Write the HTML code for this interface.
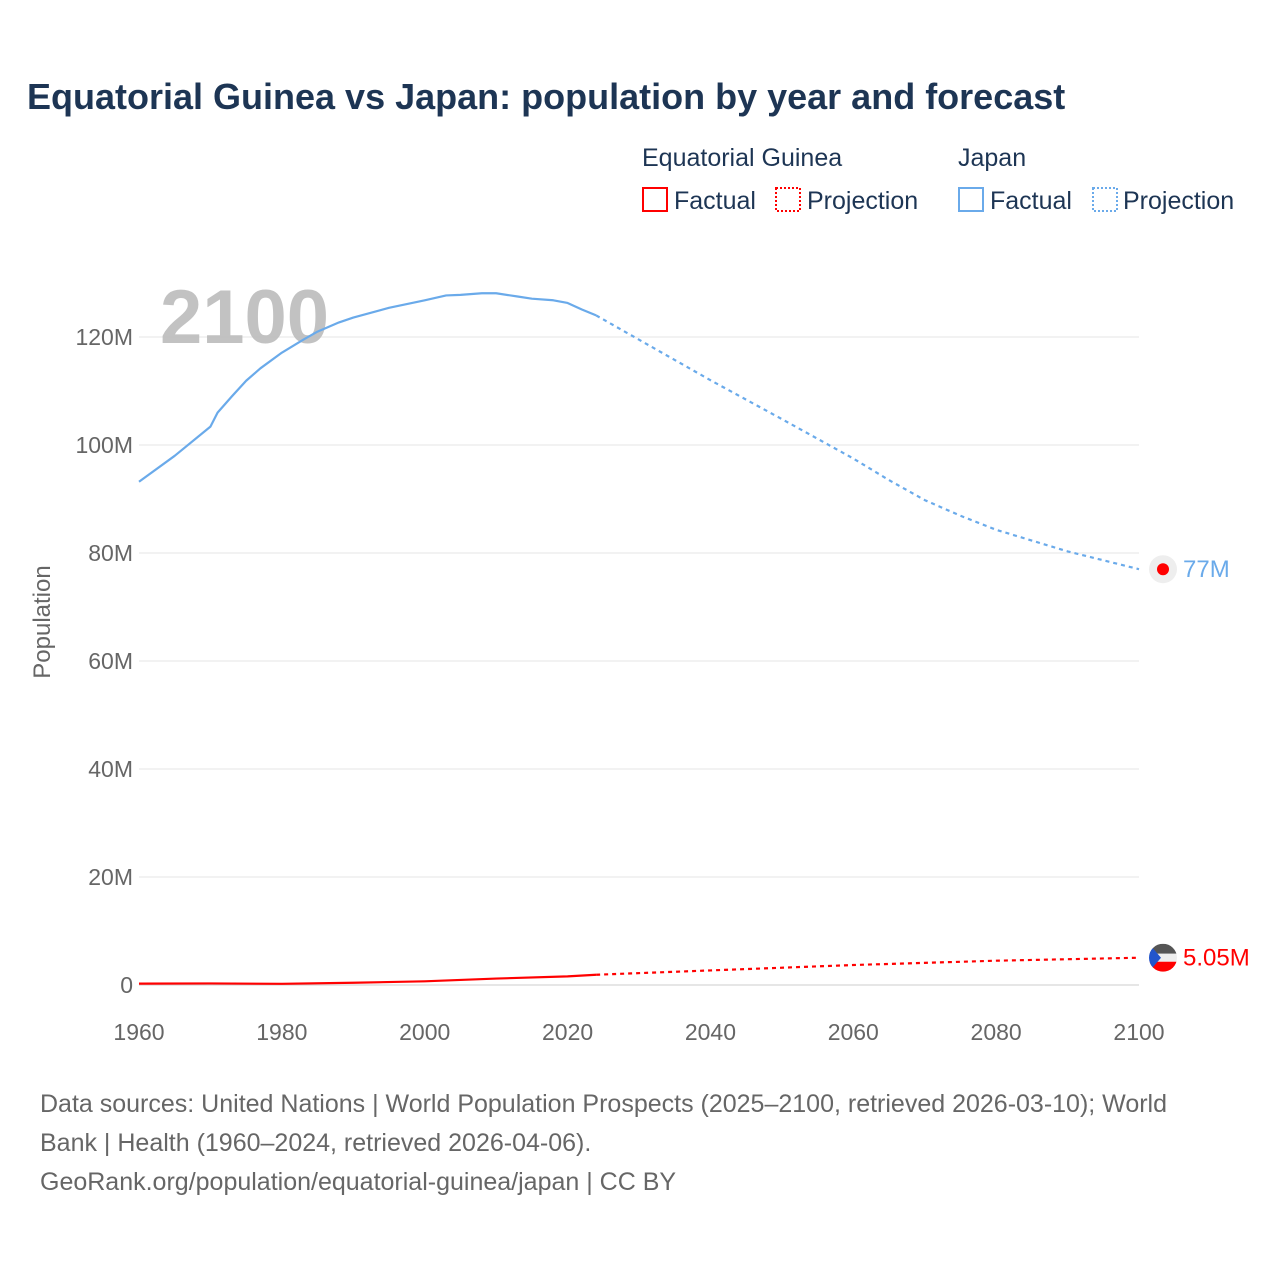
<!DOCTYPE html>
<html><head><meta charset="utf-8"><style>
body{margin:0;background:#fff;font-family:"Liberation Sans",sans-serif}
</style></head><body>
<svg width="1280" height="1280" xmlns="http://www.w3.org/2000/svg" font-family="Liberation Sans, sans-serif">
<text x="27" y="109" font-size="36" font-weight="bold" fill="#1d3554">Equatorial Guinea vs Japan: population by year and forecast</text>
<g font-size="25" fill="#1d3554">
<text x="642" y="166">Equatorial Guinea</text>
<text x="958" y="166">Japan</text>
<rect x="643" y="188" width="24" height="23" fill="none" stroke="#f00" stroke-width="2"/>
<text x="674" y="209">Factual</text>
<rect x="776" y="188" width="24" height="23" fill="none" stroke="#f00" stroke-width="2" stroke-dasharray="2,2"/>
<text x="807" y="209">Projection</text>
<rect x="959" y="188" width="24" height="23" fill="none" stroke="#6aaaea" stroke-width="2"/>
<text x="990" y="209">Factual</text>
<rect x="1093" y="188" width="24" height="23" fill="none" stroke="#6aaaea" stroke-width="2" stroke-dasharray="2,2"/>
<text x="1123" y="209">Projection</text>
</g>
<g id="grid"></g>
<text x="160" y="343" font-size="76" font-weight="bold" fill="#bbb" fill-opacity="0.9">2100</text>
<text transform="translate(50,622) rotate(-90)" text-anchor="middle" font-size="24" fill="#666">Population</text>
<g id="marks"></g>
<text x="40" y="1112" font-size="25" fill="#666">Data sources: United Nations | World Population Prospects (2025–2100, retrieved 2026-03-10); World</text>
<text x="40" y="1151" font-size="25" fill="#666">Bank | Health (1960–2024, retrieved 2026-04-06).</text>
<text x="40" y="1190" font-size="25" fill="#666">GeoRank.org/population/equatorial-guinea/japan | CC BY</text>
</svg>
<script>
const yTicks=[0,20,40,60,80,100,120];
const yTickLabels=["0","20M","40M","60M","80M","100M","120M"];
const xTicks=[1960,1980,2000,2020,2040,2060,2080,2100];
const japanFactYears=[1960,1965,1970,1971,1973,1975,1977,1980,1983,1985,1988,1990,1995,2000,2003,2005,2008,2010,2013,2015,2018,2020,2022,2024];
const japanFactVals=[93.2,98.0,103.4,106.0,109.0,111.9,114.2,117.1,119.5,121.0,122.7,123.6,125.4,126.8,127.7,127.8,128.1,128.1,127.5,127.1,126.8,126.3,125.1,124.0];
const japanProjYears=[2024,2030,2040,2050,2060,2065,2070,2075,2080,2090,2100];
const japanProjVals=[124.0,119.5,112.0,104.8,97.5,93.5,89.8,86.9,84.3,80.3,77.0];
const egFactYears=[1960,1970,1980,1990,2000,2010,2020,2024];
const egFactVals=[0.26,0.29,0.22,0.42,0.68,1.19,1.6,1.9];
const egProjYears=[2024,2040,2060,2080,2100];
const egProjVals=[1.9,2.7,3.7,4.5,5.05];
const NS="http://www.w3.org/2000/svg";
const X=y=>139+(y-1960)*1000/140;
const Y=v=>985-v*5.4;
function mk(t,a,p){const e=document.createElementNS(NS,t);for(const k in a)e.setAttribute(k,a[k]);p.appendChild(e);return e;}
const g=document.getElementById('grid');
yTicks.forEach((t,i)=>{
 const l=mk('line',{x1:139,x2:1139,y1:Y(t),y2:Y(t),stroke:t===0?'#ccc':'#e6e6e6','stroke-width':1},g);
 
 
 const tx=mk('text',{x:133,y:Y(t)+8,'text-anchor':'end','font-size':23,fill:'#666'},g);
 tx.textContent=yTickLabels[i];
 
 
});
xTicks.forEach(t=>{
 const tx=mk('text',{x:X(t),y:1040,'text-anchor':'middle','font-size':23,fill:'#666'},g);
 tx.textContent=t;
 
 
});
const m=document.getElementById('marks');
function line(ys,vs,col,dash,name){
 const p=mk('path',{d:ys.map((y,i)=>(i?'L':'M')+X(y)+','+Y(vs[i])).join(''),fill:'none',stroke:col,'stroke-width':2.2,'stroke-linejoin':'round','stroke-dasharray':dash||'none'},m);
 
 
}
line(japanFactYears,japanFactVals,'#6aaaea',null,'japan-factual-line');
line(japanProjYears,japanProjVals,'#6aaaea','4,4','japan-projection-line');
line(egFactYears,egFactVals,'#f00',null,'eg-factual-line');
line(egProjYears,egProjVals,'#f00','4,4','eg-projection-line');
const jv=japanProjVals[japanProjVals.length-1], ev=egProjVals[egProjVals.length-1];
const jf=mk('g',{},m);


mk('circle',{cx:1163,cy:Y(jv),r:14,fill:'#eee'},jf);
mk('circle',{cx:1163,cy:Y(jv),r:6,fill:'#f00'},jf);
const jl=mk('text',{x:1183,y:Y(jv)+8,'font-size':24,fill:'#6aaaea'},m);
jl.textContent=jv+'M';


const ef=mk('g',{},m);


const cy=Y(ev);
const cp=mk('clipPath',{id:'fc'},ef);
mk('circle',{cx:1163,cy:cy,r:14},cp);
const fg=mk('g',{'clip-path':'url(#fc)'},ef);
mk('rect',{x:1149,y:cy-14,width:28,height:10,fill:'#555'},fg);
mk('rect',{x:1149,y:cy-4,width:28,height:8,fill:'#eee'},fg);
mk('rect',{x:1149,y:cy+4,width:28,height:10,fill:'#f00'},fg);
mk('polygon',{points:`1149,${cy-14} 1161,${cy} 1149,${cy+14}`,fill:'#2255cc'},fg);
const el=mk('text',{x:1183,y:cy+8,'font-size':24,fill:'#f00'},m);
el.textContent=ev+'M';


</script>
</body></html>
